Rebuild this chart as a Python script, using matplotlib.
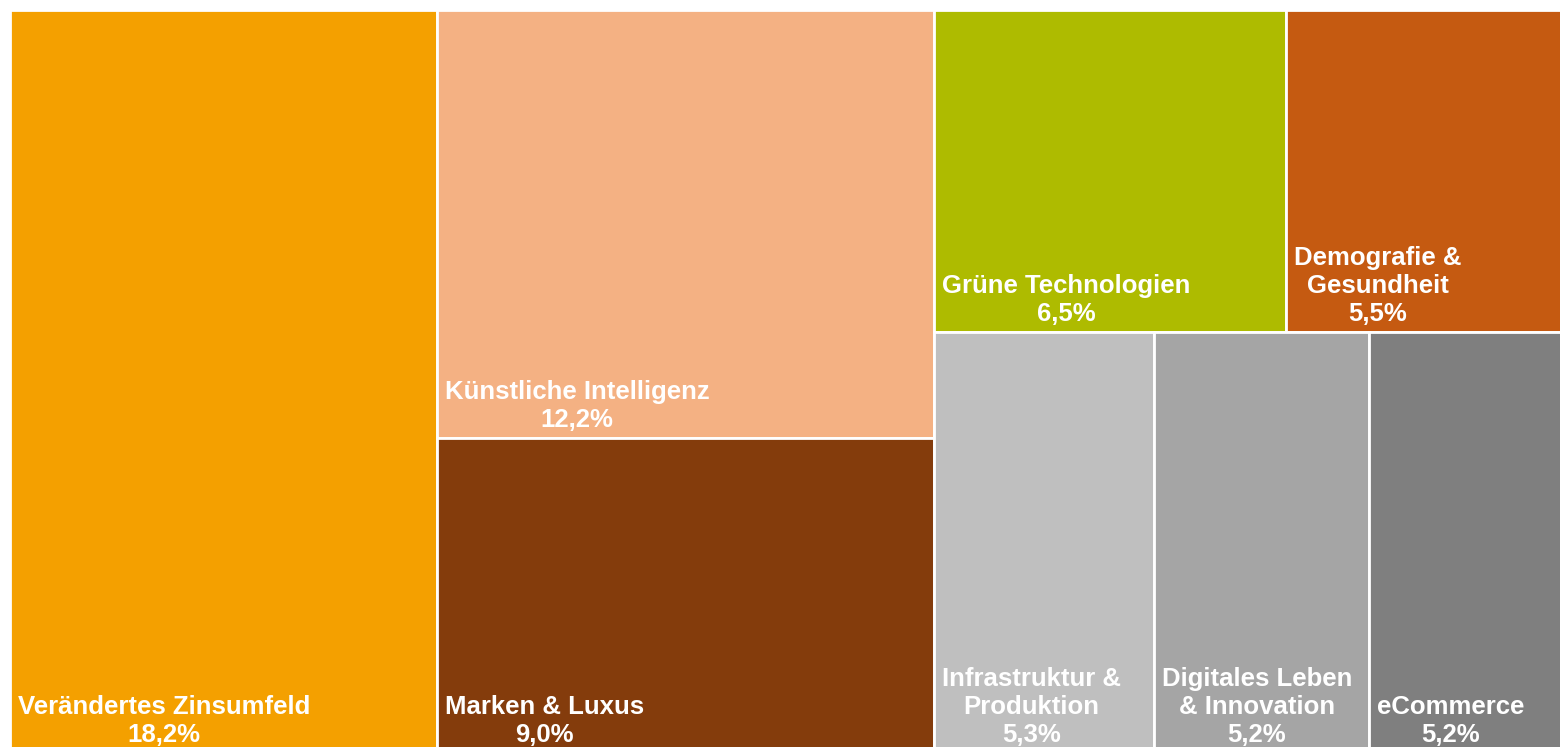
import matplotlib
matplotlib.use("Agg")
import matplotlib.pyplot as plt
from matplotlib.patches import Rectangle

# Data (share in %)
labels = ["Verändertes Zinsumfeld", "Künstliche Intelligenz", "Marken & Luxus",
          "Grüne Technologien", "Demografie &\nGesundheit",
          "Infrastruktur &\nProduktion", "Digitales Leben\n& Innovation", "eCommerce"]
values = [18.2, 12.2, 9.0, 6.5, 5.5, 5.3, 5.2, 5.2]
value_text = ["18,2%", "12,2%", "9,0%", "6,5%", "5,5%", "5,3%", "5,2%", "5,2%"]
colors = ["#F4A000", "#F4B183", "#843C0C", "#AEBB00", "#C55A11",
          "#BFBFBF", "#A5A5A5", "#7F7F7F"]

# Treemap structure: columns -> rows -> item indices
layout = [[[0]], [[1], [2]], [[3, 4], [5, 6, 7]]]

W, H = 1560, 747
fig = plt.figure(figsize=(W / 100, H / 100), dpi=100)
fig.patch.set_facecolor("white")
# plot area (extends slightly beyond the right/bottom edge like the reference crop)
ax = fig.add_axes([10 / W, -6 / H, 1574 / W, 743 / H])
total = sum(values)
ax.set_xlim(0, total)
ax.set_ylim(1, 0)
ax.axis("off")

x0 = 0.0
for col in layout:
    col_sum = sum(values[i] for row in col for i in row)
    y0 = 0.0
    for row in col:
        row_sum = sum(values[i] for i in row)
        h = row_sum / col_sum
        xx = x0
        for i in row:
            w = values[i] / row_sum * col_sum
            ax.add_patch(Rectangle((xx, y0), w, h, facecolor=colors[i],
                                   edgecolor="white", linewidth=2))
            ax.annotate(labels[i] + "\n" + value_text[i], xy=(xx, y0 + h),
                        xytext=(8, 11), textcoords="offset pixels",
                        ha="left", va="baseline", multialignment="center",
                        color="white", fontsize=18.5, fontweight="bold",
                        family="Liberation Sans", linespacing=1.2,
                        annotation_clip=False)
            xx += w
        y0 += h
    x0 += col_sum

fig.savefig("out.png", dpi=100, facecolor="white")
